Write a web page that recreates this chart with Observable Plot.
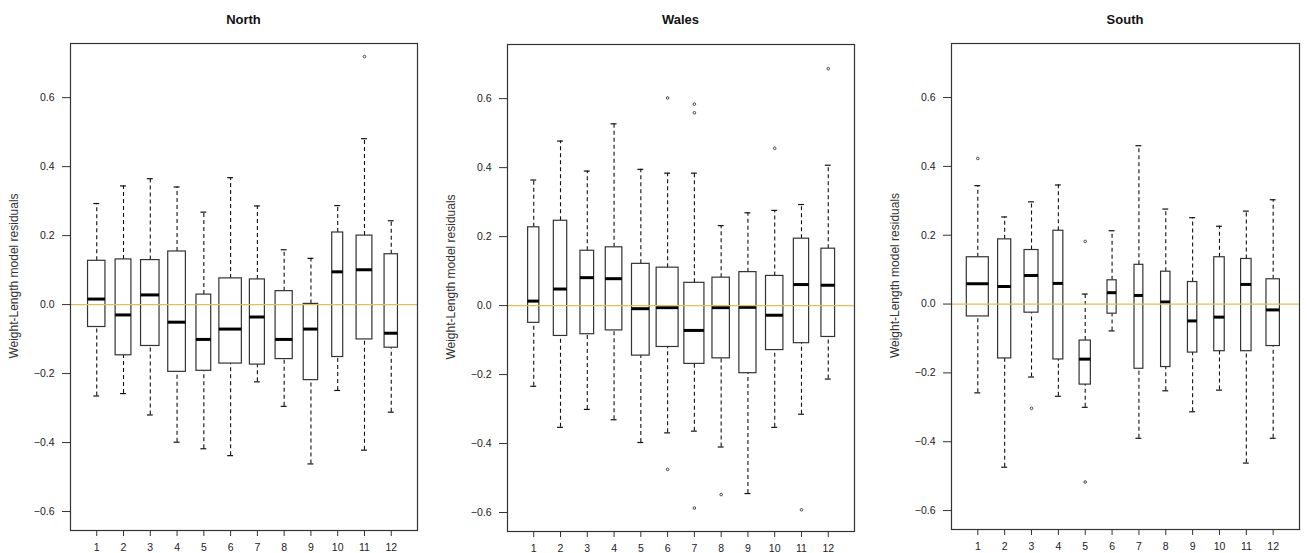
<!DOCTYPE html>
<html>
<head>
<meta charset="utf-8">
<script src="https://cdn.jsdelivr.net/npm/d3@7"></script>
<script src="https://cdn.jsdelivr.net/npm/@observablehq/plot@0.6"></script>
<style>
  html, body { margin: 0; padding: 0; background: #fff; }
  body { width: 1307px; height: 553px; position: relative; overflow: hidden; font-family: "Liberation Sans", Arial, sans-serif; }
  .panel { position: absolute; top: 0; }
  .title { position: absolute; top: 0; height: 30px; line-height: 40px; font-weight: bold; font-size: 13px; color: #111; text-align: center; }
  .chart { position: absolute; top: 30px; left: 0; }
</style>
</head>
<body>
<div id="root"></div>
<script>
// ---------- data ----------
const months = [1, 2, 3, 4, 5, 6, 7, 8, 9, 10, 11, 12];
const yTicks = [-0.6, -0.4, -0.2, 0, 0.2, 0.4, 0.6];
const yLabel = "Weight-Length model residuals";

// North
const northTitle = "North";
const northLow  = [-0.265, -0.258, -0.320, -0.399, -0.418, -0.438, -0.224, -0.295, -0.462, -0.249, -0.422, -0.312];
const northQ1   = [-0.065, -0.147, -0.120, -0.195, -0.192, -0.171, -0.174, -0.158, -0.219, -0.152, -0.101, -0.125];
const northMed  = [0.016, -0.030, 0.028, -0.051, -0.101, -0.071, -0.036, -0.101, -0.071, 0.095, 0.101, -0.083];
const northQ3   = [0.127, 0.131, 0.129, 0.154, 0.029, 0.076, 0.073, 0.039, 0.002, 0.209, 0.200, 0.146];
const northHigh = [0.293, 0.344, 0.365, 0.341, 0.268, 0.368, 0.286, 0.159, 0.134, 0.287, 0.481, 0.243];
const northWidth = [0.65, 0.59, 0.69, 0.66, 0.55, 0.84, 0.56, 0.64, 0.54, 0.41, 0.59, 0.50];
const northOutMonth = [11];
const northOutValue = [0.719];

// Wales
const walesTitle = "Wales";
const walesLow  = [-0.234, -0.353, -0.301, -0.331, -0.397, -0.369, -0.364, -0.410, -0.545, -0.353, -0.315, -0.213];
const walesQ1   = [-0.050, -0.088, -0.083, -0.072, -0.145, -0.120, -0.169, -0.153, -0.196, -0.129, -0.109, -0.091];
const walesMed  = [0.013, 0.048, 0.081, 0.078, -0.009, -0.006, -0.072, -0.006, -0.005, -0.028, 0.061, 0.059];
const walesQ3   = [0.227, 0.246, 0.159, 0.169, 0.121, 0.110, 0.066, 0.081, 0.097, 0.086, 0.194, 0.165];
const walesHigh = [0.364, 0.477, 0.390, 0.527, 0.395, 0.384, 0.384, 0.232, 0.269, 0.276, 0.293, 0.407];
const walesWidth = [0.42, 0.50, 0.51, 0.62, 0.66, 0.82, 0.75, 0.65, 0.64, 0.65, 0.57, 0.51];
const walesOutMonth = [6, 6, 7, 7, 7, 8, 10, 11, 12];
const walesOutValue = [0.602, -0.475, 0.584, 0.559, -0.587, -0.548, 0.456, -0.592, 0.687];

// South
const southTitle = "South";
const southLow  = [-0.258, -0.474, -0.212, -0.268, -0.300, -0.078, -0.390, -0.252, -0.313, -0.250, -0.462, -0.390];
const southQ1   = [-0.036, -0.158, -0.025, -0.161, -0.234, -0.028, -0.188, -0.183, -0.141, -0.137, -0.137, -0.122];
const southMed  = [0.059, 0.051, 0.083, 0.060, -0.160, 0.033, 0.025, 0.006, -0.049, -0.038, 0.057, -0.017];
const southQ3   = [0.136, 0.188, 0.157, 0.213, -0.106, 0.069, 0.114, 0.094, 0.064, 0.136, 0.131, 0.072];
const southHigh = [0.344, 0.253, 0.297, 0.346, 0.029, 0.213, 0.460, 0.276, 0.251, 0.226, 0.270, 0.303];
const southWidth = [0.82, 0.49, 0.52, 0.37, 0.42, 0.34, 0.33, 0.35, 0.35, 0.39, 0.39, 0.50];
const southOutMonth = [1, 3, 5, 5];
const southOutValue = [0.423, -0.303, 0.182, -0.517];

// ---------- build ----------
function buildRows(low, q1, med, q3, high, width) {
  return months.map((m, i) => ({
    m, lo: low[i], q1: q1[i], med: med[i], q3: q3[i], hi: high[i],
    x1: m - width[i] / 2, x2: m + width[i] / 2
  }));
}
function buildOut(ms, vs) { return ms.map((m, i) => ({ m, v: vs[i] })); }

const panels = [
  { title: northTitle, rows: buildRows(northLow, northQ1, northMed, northQ3, northHigh, northWidth), out: buildOut(northOutMonth, northOutValue),
    left: 0, width: 436, mL: 70, mR: 19, mT: 13, mB: 23 },
  { title: walesTitle, rows: buildRows(walesLow, walesQ1, walesMed, walesQ3, walesHigh, walesWidth), out: buildOut(walesOutMonth, walesOutValue),
    left: 436, width: 436, mL: 71, mR: 18, mT: 14, mB: 22 },
  { title: southTitle, rows: buildRows(southLow, southQ1, southMed, southQ3, southHigh, southWidth), out: buildOut(southOutMonth, southOutValue),
    left: 872, width: 435, mL: 79, mR: 8, mT: 13, mB: 24 }
];

const root = document.getElementById("root");
const ink = "#333";
const cap = 0.11;

for (const p of panels) {
  const div = document.createElement("div");
  div.className = "panel";
  div.style.left = p.left + "px";
  div.style.width = p.width + "px";
  div.style.height = "553px";

  const t = document.createElement("div");
  t.className = "title";
  t.style.left = p.mL + "px";
  t.style.width = (p.width - p.mL - p.mR) + "px";
  t.textContent = p.title;
  div.appendChild(t);

  const chart = Plot.plot({
    width: p.width,
    height: 523,
    marginLeft: p.mL,
    marginRight: p.mR,
    marginTop: p.mT,
    marginBottom: p.mB,
    style: { fontFamily: "Liberation Sans, Arial, sans-serif", fontSize: "10.5px", color: "#222", background: "white" },
    x: { domain: [0.02, 12.98] },
    y: { domain: [-0.655, 0.757] },
    marks: [
      Plot.axisX(months, { tickSize: 6, tickPadding: 7, label: null, stroke: ink, fontSize: 10.5 }),
      Plot.axisY(yTicks, { tickSize: 8, tickPadding: 8, label: null, tickFormat: d3.format(".1f"), stroke: ink, fontSize: 10.5 }),
      // whiskers (dashed)
      Plot.ruleX(p.rows, { x: "m", y1: "q3", y2: "hi", stroke: "#111", strokeWidth: 1.1, strokeDasharray: "4,3" }),
      Plot.ruleX(p.rows, { x: "m", y1: "lo", y2: "q1", stroke: "#111", strokeWidth: 1.1, strokeDasharray: "4,3" }),
      // staples
      Plot.ruleY(p.rows, { y: "hi", x1: d => d.m - cap, x2: d => d.m + cap, stroke: "#111", strokeWidth: 1.2 }),
      Plot.ruleY(p.rows, { y: "lo", x1: d => d.m - cap, x2: d => d.m + cap, stroke: "#111", strokeWidth: 1.2 }),
      // boxes
      Plot.rect(p.rows, { x1: "x1", x2: "x2", y1: "q1", y2: "q3", fill: "white", stroke: ink, strokeWidth: 1.2 }),
      // medians
      Plot.ruleY(p.rows, { y: "med", x1: "x1", x2: "x2", stroke: "#000", strokeWidth: 3 }),
      // zero reference line
      Plot.ruleY([0], { stroke: "#e2bd5e", strokeWidth: 1.3 }),
      // outliers
      Plot.dot(p.out, { x: "m", y: "v", r: 1.3, stroke: "#444", strokeWidth: 1, fill: "none" }),
      // frame
      Plot.frame({ stroke: ink, strokeWidth: 1.2 }),
      // y-axis title
      Plot.text([yLabel], { text: d => d, frameAnchor: "left", textAnchor: "middle", rotate: -90, dx: -56, dy: -11, fontSize: 12, fill: "#333" })
    ]
  });
  chart.classList.add("chart");
  div.appendChild(chart);
  root.appendChild(div);
}
</script>
</body>
</html>
